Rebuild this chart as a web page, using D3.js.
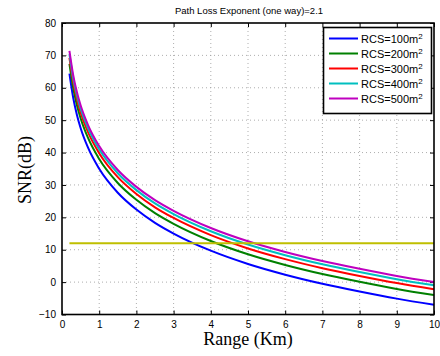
<!DOCTYPE html>
<html>
<head>
<meta charset="utf-8">
<script src="https://cdn.jsdelivr.net/npm/d3@7"></script>
<style>
  html, body { margin: 0; padding: 0; background: #fff; }
  svg { display: block; }
  .tick text { font-family: "Liberation Sans", Arial, sans-serif; font-size: 10px; fill: #000; }
</style>
</head>
<body>
<svg id="chart" width="440" height="356"></svg>
<script>
const RANGE = [0.2, 0.3, 0.4, 0.5, 0.7, 1, 1.5, 2, 2.5, 3, 4, 5, 6, 7, 8, 9, 10];
const RCS = ["100", "200", "300", "400", "500"];
const COLORS = ["#0000ff", "#008000", "#ff0000", "#00bfbf", "#bf00bf"];
const SNR_100 = [64.4, 57.0, 51.7, 47.6, 41.5, 35.0, 27.6, 22.4, 18.3, 15.0, 9.7, 5.6, 2.3, -0.5, -2.9, -5.1, -7.0];
const SNR_200 = [67.4, 60.0, 54.7, 50.6, 44.5, 38.0, 30.6, 25.4, 21.3, 18.0, 12.7, 8.6, 5.3, 2.5, 0.1, -2.1, -4.0];
const SNR_300 = [69.2, 61.8, 56.5, 52.4, 46.3, 39.8, 32.4, 27.2, 23.1, 19.8, 14.5, 10.4, 7.1, 4.3, 1.9, -0.3, -2.2];
const SNR_400 = [70.4, 63.0, 57.7, 53.6, 47.5, 41.0, 33.6, 28.4, 24.3, 21.0, 15.7, 11.6, 8.3, 5.5, 3.1, 0.9, -1.0];
const SNR_500 = [71.4, 64.0, 58.7, 54.6, 48.5, 42.0, 34.6, 29.4, 25.3, 22.0, 16.7, 12.6, 9.3, 6.5, 4.1, 1.9, 0.0];
const THRESHOLD = 12;
const X_TICKS = [0, 1, 2, 3, 4, 5, 6, 7, 8, 9, 10];
const Y_TICKS = [-10, 0, 10, 20, 30, 40, 50, 60, 70, 80];

const series = [SNR_100, SNR_200, SNR_300, SNR_400, SNR_500];

const svg = d3.select("#chart");
const L = 62, R = 434, T = 23, B = 314.5;
const x = d3.scaleLinear([0, 10], [L, R]);
const y = d3.scaleLinear([-10, 80], [B, T]);

// grid
const grid = svg.append("g").attr("stroke", "#999").attr("stroke-width", 0.8)
  .attr("stroke-dasharray", "1,3");
grid.selectAll(".gx").data(X_TICKS.slice(1, -1)).join("line")
  .attr("x1", (d) => x(d)).attr("x2", (d) => x(d)).attr("y1", T).attr("y2", B);
grid.selectAll(".gy").data(Y_TICKS.slice(1, -1)).join("line")
  .attr("y1", (d) => y(d)).attr("y2", (d) => y(d)).attr("x1", L).attr("x2", R);

// axes (ticks inward, box on)
const tk = 4;
svg.append("g").attr("transform", `translate(0,${B})`)
  .call(d3.axisBottom(x).tickValues(X_TICKS).tickSizeInner(-tk).tickSizeOuter(0).tickPadding(6))
  .call((g) => g.select(".domain").remove());
svg.append("g").attr("transform", `translate(0,${T})`)
  .call(d3.axisTop(x).tickValues(X_TICKS).tickSizeInner(-tk).tickSizeOuter(0).tickFormat(""))
  .call((g) => g.select(".domain").remove());
svg.append("g").attr("transform", `translate(${L},0)`)
  .call(d3.axisLeft(y).tickValues(Y_TICKS).tickSizeInner(-tk).tickSizeOuter(0).tickPadding(6)
    .tickFormat((d) => d < 0 ? "\u2212" + Math.abs(d) : d))
  .call((g) => g.select(".domain").remove());
svg.append("g").attr("transform", `translate(${R},0)`)
  .call(d3.axisRight(y).tickValues(Y_TICKS).tickSizeInner(-tk).tickSizeOuter(0).tickFormat(""))
  .call((g) => g.select(".domain").remove());
svg.selectAll(".tick line").attr("stroke", "#000");

// curves
const line = d3.line().x((d, i) => x(RANGE[i])).y((d) => y(d)).curve(d3.curveMonotoneX);
svg.append("g").selectAll("path").data(series).join("path")
  .attr("d", line).attr("fill", "none")
  .attr("stroke", (d, i) => COLORS[i]).attr("stroke-width", 2);

// threshold
svg.append("line")
  .attr("x1", x(RANGE[0])).attr("x2", x(RANGE[RANGE.length - 1]))
  .attr("y1", y(THRESHOLD)).attr("y2", y(THRESHOLD))
  .attr("stroke", "#bfbf00").attr("stroke-width", 2);

// frame
svg.append("rect").attr("x", L).attr("y", T).attr("width", R - L).attr("height", B - T)
  .attr("fill", "none").attr("stroke", "#000").attr("stroke-width", 1.6);

// legend
const lg = svg.append("g");
lg.append("rect").attr("x", 323.5).attr("y", 27.5).attr("width", 108).attr("height", 86)
  .attr("fill", "#fff").attr("stroke", "#000").attr("stroke-width", 1.6);
RCS.forEach((r, i) => {
  const yy = 38.5 + i * 15;
  lg.append("line").attr("x1", 329).attr("x2", 358).attr("y1", yy).attr("y2", yy)
    .attr("stroke", COLORS[i]).attr("stroke-width", 2);
  const t = lg.append("text").attr("x", 361).attr("y", yy + 4)
    .attr("font-family", "Liberation Sans, Arial, sans-serif").attr("font-size", 11);
  t.append("tspan").text(`RCS=${r}m`);
  t.append("tspan").attr("dy", -4).attr("font-size", 8).text("2");
});

// title and labels
svg.append("text").attr("x", 249).attr("y", 14).attr("text-anchor", "middle")
  .attr("font-family", "Liberation Sans, Arial, sans-serif").attr("font-size", 9.5)
  .text("Path Loss Exponent (one way)=2.1");
svg.append("text").attr("x", 248).attr("y", 345).attr("text-anchor", "middle")
  .attr("font-family", "Liberation Serif, Times New Roman, serif").attr("font-size", 18)
  .text("Range (Km)");
svg.append("text").attr("transform", "translate(31,170) rotate(-90)").attr("text-anchor", "middle")
  .attr("font-family", "Liberation Serif, Times New Roman, serif").attr("font-size", 18)
  .text("SNR(dB)");
</script>
</body>
</html>
